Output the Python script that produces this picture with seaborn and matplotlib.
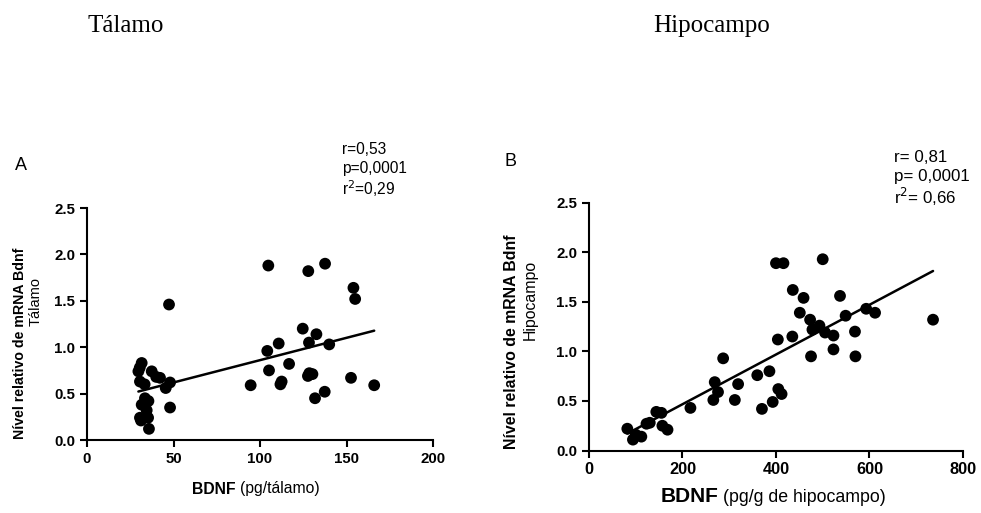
import matplotlib
matplotlib.use("Agg")
import matplotlib.pyplot as plt
import seaborn as sns
import pandas as pd

sns.set_theme(style="ticks")
plt.rcParams['font.family'] = ['Liberation Sans', 'DejaVu Sans']
plt.rcParams['text.color'] = 'black'
plt.rcParams['axes.labelcolor'] = 'black'
plt.rcParams['xtick.color'] = 'black'
plt.rcParams['ytick.color'] = 'black'

# Panel A: Tálamo
tal_x = [31.6, 30.5, 29.7, 37.4, 42.2, 30.6, 33.3, 40.0, 48.0, 45.5, 33.5, 35.5, 31.6, 34.5,
         30.6, 35.3, 31.2, 35.8, 48.0, 47.4,
         104.8, 127.9, 137.6, 154.0, 155.0, 124.7, 132.6, 128.3, 140.0, 110.8, 104.2, 116.8,
         105.2, 128.5, 130.3, 127.7, 152.6, 166.0, 94.6, 111.8, 112.5, 137.4, 131.8]
tal_y = [0.83, 0.78, 0.74, 0.74, 0.67, 0.63, 0.60, 0.68, 0.62, 0.56, 0.45, 0.42, 0.38, 0.32,
         0.24, 0.24, 0.21, 0.12, 0.35, 1.46,
         1.88, 1.82, 1.90, 1.64, 1.52, 1.20, 1.14, 1.05, 1.03, 1.04, 0.96, 0.82,
         0.75, 0.72, 0.71, 0.69, 0.67, 0.59, 0.59, 0.60, 0.63, 0.52, 0.45]

# Panel B: Hipocampo
hip_x = [82, 94, 100, 112, 123, 130, 144, 155, 157, 168, 217,
         266, 269, 276, 287, 312, 319, 360, 370, 386, 393, 405, 412,
         400, 416, 500, 436, 459, 537, 451, 473, 593, 612, 549, 736, 493, 478, 505, 523,
         569, 404, 435, 475, 523, 570]
hip_y = [0.22, 0.11, 0.16, 0.14, 0.27, 0.28, 0.39, 0.38, 0.25, 0.21, 0.43,
         0.51, 0.69, 0.59, 0.93, 0.51, 0.67, 0.76, 0.42, 0.80, 0.49, 0.62, 0.57,
         1.89, 1.89, 1.93, 1.62, 1.54, 1.56, 1.39, 1.32, 1.43, 1.39, 1.36, 1.32, 1.26, 1.22,
         1.19, 1.16, 1.20, 1.12, 1.15, 0.95, 1.02, 0.95]

tal_xticks = [0, 50, 100, 150, 200]
hip_xticks = [0, 200, 400, 600, 800]
yticks = [0.0, 0.5, 1.0, 1.5, 2.0, 2.5]

fig = plt.figure(figsize=(9.81, 5.13), dpi=100)
axA = fig.add_axes([0.0887, 0.1423, 0.3527, 0.4522])
axB = fig.add_axes([0.6004, 0.1218, 0.3812, 0.4830])

dfA = pd.DataFrame({"x": tal_x, "y": tal_y})
dfB = pd.DataFrame({"x": hip_x, "y": hip_y})

for ax, df, xt, xmax in [(axA, dfA, tal_xticks, 200), (axB, dfB, hip_xticks, 800)]:
    sns.regplot(data=df, x="x", y="y", ax=ax, ci=None, truncate=True,
                scatter_kws=dict(s=72, color="black", edgecolor="none", alpha=1),
                line_kws=dict(color="black", lw=1.8))
    ax.set_xlim(0, xmax)
    ax.set_ylim(0, 2.5)
    ax.set_xticks(xt)
    ax.set_yticks(yticks)
    ax.set_yticklabels([f"{v:.1f}" for v in yticks])
    for s in ["top", "right"]:
        ax.spines[s].set_visible(False)
    for s in ["left", "bottom"]:
        ax.spines[s].set_linewidth(1.5)
        ax.spines[s].set_color("black")
    ax.tick_params(direction="out", length=5, width=1.5, colors="black")
    ax.set_xlabel("")
    ax.set_ylabel("")
    ax.set_facecolor("white")

axA.tick_params(labelsize=10.8)
for lab in axA.get_xticklabels() + axA.get_yticklabels():
    lab.set_fontweight("bold")
axB.tick_params(axis="y", labelsize=10.8)
axB.tick_params(axis="x", labelsize=11.8)
for lab in axB.get_xticklabels() + axB.get_yticklabels():
    lab.set_fontweight("bold")

# x labels
fig.text(236 / 981, 1 - 489 / 513, "BDNF", ha="right", va="center", fontsize=11.3,
         fontweight="bold")
fig.text(240 / 981, 1 - 489 / 513, "(pg/tálamo)", ha="left", va="center", fontsize=11.3)
fig.text(719 / 981, 1 - 496 / 513, "BDNF", ha="right", va="center", fontsize=15,
         fontweight="bold")
fig.text(723 / 981, 1 - 497 / 513, "(pg/g de hipocampo)", ha="left", va="center",
         fontsize=12.8)

# y labels
fig.text(20 / 981, 1 - 343 / 513, "Nível relativo de mRNA Bdnf", rotation=90,
         ha="center", va="center", fontsize=10.2, fontweight="bold")
fig.text(36 / 981, 1 - 302 / 513, "Tálamo", rotation=90, ha="center", va="center",
         fontsize=10.5)
fig.text(512 / 981, 1 - 342 / 513, "Nível relativo de mRNA Bdnf", rotation=90,
         ha="center", va="center", fontsize=11.4, fontweight="bold")
fig.text(530 / 981, 1 - 300 / 513, "Hipocampo", rotation=90, ha="center", va="center",
         fontsize=11.4)

# panel letters
fig.text(15 / 981, 1 - 165 / 513, "A", fontsize=13, ha="left", va="center")
fig.text(505 / 981, 1 - 162 / 513, "B", fontsize=13, ha="left", va="center")

# stats
fig.text(342 / 981, 1 - 150 / 513, "r=0,53", fontsize=11.2, ha="left", va="center")
fig.text(342 / 981, 1 - 168 / 513, "p=0,0001", fontsize=11.2, ha="left", va="center")
fig.text(342 / 981, 1 - 189 / 513, r"r$^2$=0,29", fontsize=11.2, ha="left", va="center")
fig.text(894 / 981, 1 - 157 / 513, "r= 0,81", fontsize=12.2, ha="left", va="center")
fig.text(894 / 981, 1 - 176 / 513, "p= 0,0001", fontsize=12.2, ha="left", va="center")
fig.text(894 / 981, 1 - 197 / 513, r"r$^2$= 0,66", fontsize=12.2, ha="left", va="center")

# titles
fig.text(126 / 981, 1 - 26 / 513, "Tálamo", family="Liberation Serif", fontsize=18,
         ha="center", va="center")
fig.text(712 / 981, 1 - 26 / 513, "Hipocampo", family="Liberation Serif", fontsize=18,
         ha="center", va="center")

fig.savefig("out.png", dpi=100, facecolor="white")
